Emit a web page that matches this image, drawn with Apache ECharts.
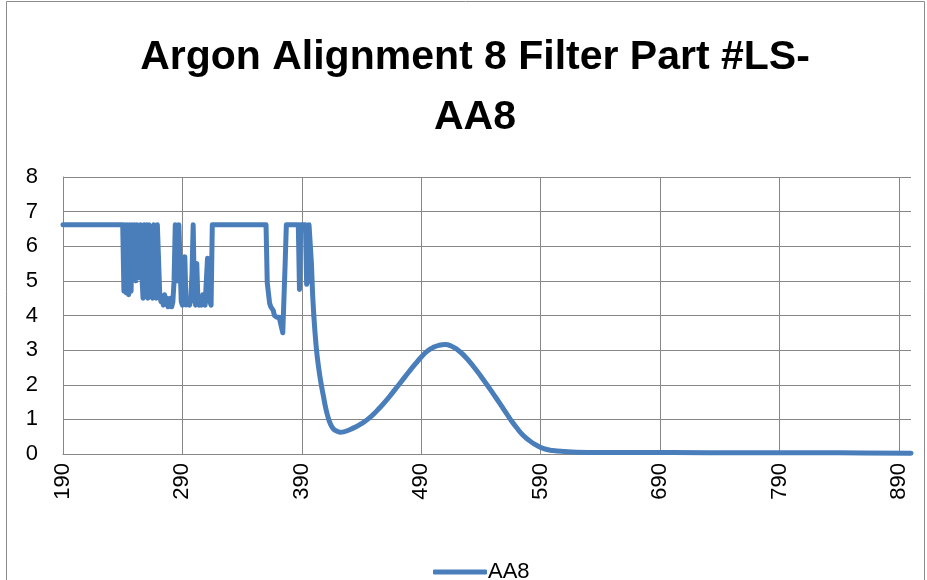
<!DOCTYPE html>
<html>
<head>
<meta charset="utf-8">
<script src="https://cdn.jsdelivr.net/npm/echarts@6/dist/echarts.min.js"></script>
<style>
html,body{margin:0;padding:0;background:#fff;}
#chart{width:927px;height:580px;}
</style>
</head>
<body>
<div id="chart"></div>
<script>
const titleText = "Argon Alignment 8 Filter Part #LS-\nAA8";
const seriesName = "AA8";
const xTickStart = 190;
const xTickEnd = 900;
const xTickStep = 100;
const yTicks = [0, 1, 2, 3, 4, 5, 6, 7, 8];

// saturated / noisy part (straight segments)
const wavelengthsNoisy = [
  190, 240, 241, 242, 243, 244, 245, 246, 247, 248, 249, 250, 251, 252, 253, 254, 255, 256, 257, 258,
  259, 260, 261, 262, 263, 264, 265, 266, 267, 268, 269, 270, 271, 272, 273, 274, 275, 276, 277, 278,
  279, 280, 281, 282, 283, 284, 285, 286, 287, 288, 289, 290, 291, 292, 293, 294, 295, 296, 297, 298,
  299, 300, 301, 302, 303, 304, 305, 306, 307, 308, 309, 310, 311, 312, 313, 314, 315, 360, 361, 362,
  363, 364, 365, 366, 367, 368, 369, 370, 371, 372, 373, 374, 375, 376, 377, 387, 388, 389, 393, 394,
  395, 396, 397, 398, 399, 400
];
const aa8Noisy = [
  6.62, 6.62, 4.7, 6.62, 4.65, 6.62, 4.6, 6.62, 4.7, 6.62, 5.4, 6.62, 5.0, 6.62, 5.6, 5.1, 6.62, 5.2, 4.5, 6.62,
  4.6, 6.62, 4.5, 6.62, 5.1, 4.6, 4.5, 6.62, 5.2, 4.5, 6.62, 6.62, 4.6, 4.4, 4.5, 4.3, 4.6, 4.4, 4.5, 4.25,
  4.3, 4.5, 4.25, 4.4, 5.0, 6.62, 6.62, 5.0, 6.62, 6.62, 4.4, 4.3, 4.5, 5.7, 4.3, 4.25, 4.4, 4.3, 4.5, 5.2,
  6.62, 4.5, 4.3, 5.5, 4.4, 4.3, 4.5, 4.3, 4.6, 4.4, 4.3, 5.0, 5.65, 5.4, 4.4, 4.3, 6.62, 6.62, 4.95, 4.9,
  4.35, 4.25, 4.2, 4.15, 4.0, 4.0, 3.95, 4.0, 3.95, 3.8, 3.65, 3.5, 3.55, 5.5, 6.62, 6.62, 4.75, 6.62, 6.62, 4.9,
  5.0, 6.62, 6.62, 5.5, 4.6, 4.0
];

// smooth part of the spectrum
const wavelengthsSmooth = [
  400, 402, 404, 406, 408, 410, 412, 414, 416, 418, 420, 422,
  425, 430, 435, 440, 445, 450, 455, 460, 465, 470, 475, 480, 485, 490, 495, 500, 505, 510, 515, 520,
  525, 530, 535, 540, 545, 550, 555, 560, 565, 570, 575, 580, 585, 590, 595, 600, 610, 620, 640, 700,
  760, 820, 860, 900
];
const aa8Smooth = [
  4.0, 3.1, 2.5, 2.05, 1.68, 1.32, 1.05, 0.86, 0.74, 0.68, 0.65, 0.63,
  0.64, 0.7, 0.78, 0.88, 1.0, 1.15, 1.33, 1.52, 1.73, 1.95, 2.17, 2.39, 2.6, 2.8, 2.97, 3.08, 3.14, 3.16, 3.12, 3.02,
  2.87, 2.68, 2.47, 2.24, 2.0, 1.75, 1.5, 1.24, 0.98, 0.75, 0.55, 0.4, 0.28, 0.19, 0.13, 0.1, 0.07, 0.05, 0.04, 0.04,
  0.035, 0.035, 0.03, 0.025
];

// x is plotted relative to the first tick so ticks count from 0
const toPoints = (ws, vs) => ws.map((w, i) => [w - xTickStart, vs[i]]);

const gridColor = '#878787';
const lineColor = '#4a7ebb';
const font = 'Liberation Sans, Arial, sans-serif';
const lineStyle = {color: lineColor, width: 5, cap: 'round', join: 'round'};

const chart = echarts.init(document.getElementById('chart'), null, {renderer: 'canvas'});
chart.setOption({
  backgroundColor: '#ffffff',
  animation: false,
  graphic: [{
    type: 'rect',
    shape: {x: 6.5, y: 1.5, width: 918, height: 640},
    style: {fill: 'none', stroke: '#8c8c8c', lineWidth: 1},
    silent: true
  }],
  title: {
    text: titleText,
    left: 470,
    textAlign: 'center',
    top: 23,
    textStyle: {
      fontFamily: font,
      fontWeight: 'bold',
      fontSize: 41,
      lineHeight: 60,
      color: '#000'
    }
  },
  legend: {
    data: [seriesName],
    left: 428,
    top: 556,
    itemWidth: 54,
    itemHeight: 5,
    itemGap: 4,
    icon: 'roundRect',
    textStyle: {fontFamily: font, fontSize: 22, color: '#000', padding: [0, 0, 0, -4]}
  },
  grid: {
    left: 63,
    right: 16,
    top: 177,
    bottom: 126,
    containLabel: false
  },
  xAxis: {
    type: 'value',
    min: 0,
    max: xTickEnd - xTickStart,
    interval: xTickStep,
    axisLine: {show: true, lineStyle: {color: gridColor, width: 1}},
    axisTick: {show: false},
    axisLabel: {
      rotate: 90,
      margin: 9,
      fontFamily: font,
      fontSize: 22,
      color: '#000',
      showMaxLabel: false,
      formatter: v => String(v + xTickStart)
    },
    splitLine: {
      show: true,
      showMaxLine: false,
      lineStyle: {color: [gridColor, gridColor, gridColor, gridColor, gridColor, gridColor, gridColor, gridColor, 'rgba(0,0,0,0)'], width: 1}
    }
  },
  yAxis: {
    type: 'value',
    min: yTicks[0],
    max: yTicks[yTicks.length - 1],
    interval: 1,
    axisLine: {show: true, lineStyle: {color: gridColor, width: 1}},
    axisTick: {show: false},
    axisLabel: {
      margin: 25,
      fontFamily: font,
      fontSize: 22,
      color: '#000'
    },
    splitLine: {show: true, lineStyle: {color: gridColor, width: 1}}
  },
  series: [{
    name: seriesName,
    type: 'line',
    data: toPoints(wavelengthsNoisy, aa8Noisy),
    showSymbol: false,
    symbol: 'none',
    lineStyle: lineStyle,
    itemStyle: {color: lineColor},
    clip: false
  }, {
    name: seriesName,
    type: 'line',
    data: toPoints(wavelengthsSmooth, aa8Smooth),
    showSymbol: false,
    symbol: 'none',
    smooth: 0.5,
    lineStyle: lineStyle,
    itemStyle: {color: lineColor},
    clip: false
  }]
});
</script>
</body>
</html>
